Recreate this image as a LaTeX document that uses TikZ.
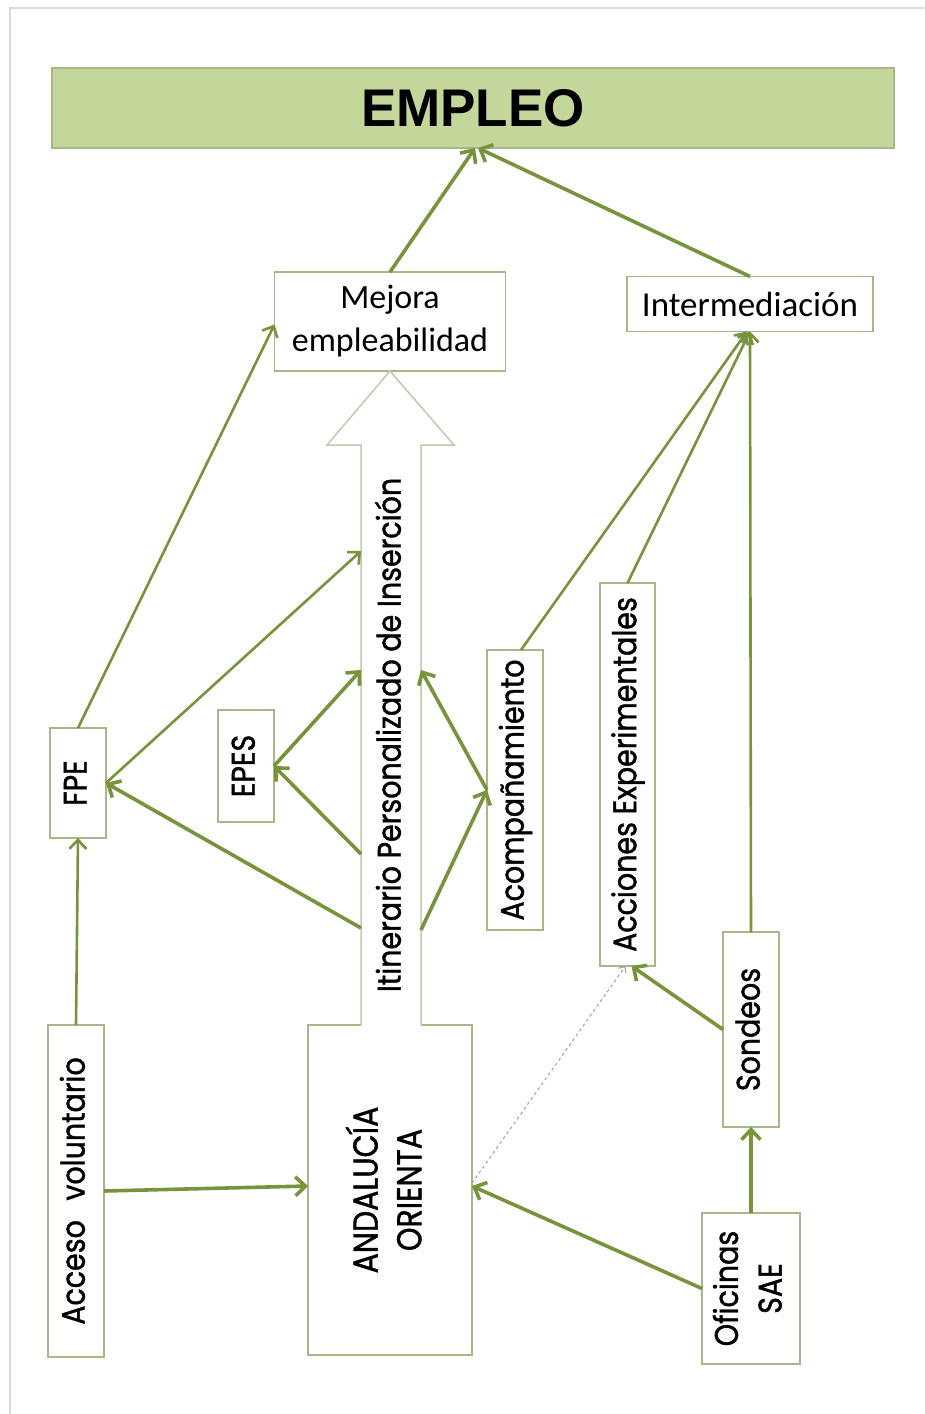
\documentclass[tikz,border=0pt]{standalone}
\usepackage{fontspec}
\usepackage{graphicx}
\setmainfont{Poppins}[UprightFeatures={FakeBold=1.3}]
\newfontfamily\calfont{Carlito}
\newfontfamily\arialfont{Liberation Sans}
\usetikzlibrary{arrows.meta}

\definecolor{olivearrow}{RGB}{119,147,60}
\definecolor{olivefill}{RGB}{196,215,155}
\definecolor{boxline}{RGB}{168,182,138}
\definecolor{bigarrowline}{RGB}{196,200,178}

\newcommand{\vtext}[2][28.5]{\rotatebox{90}{\scalebox{1}[1.15]{\fontsize{#1}{38}\selectfont\begin{tabular}{@{}c@{}}#2\end{tabular}}}}

\tikzset{
  box/.style={draw=boxline, line width=1.5pt, fill=white, inner sep=0pt, outer sep=0pt, align=center},
  flecha/.style={draw=olivearrow, line width=3.6pt, -{Straight Barb[length=10pt,width=19pt]}},
  flechafina/.style={draw=olivearrow, line width=2.6pt, -{Straight Barb[length=9pt,width=17pt]}},
  punteada/.style={draw=gray!70, line width=1.1pt, dashed, -{Straight Barb[length=5pt,width=9pt]}},
}

\begin{document}
\begin{tikzpicture}[x=1pt,y=1pt,yscale=-1,xscale=1]
\useasboundingbox (0,0) rectangle (924,1414);
%frame of the scan
\draw [gray!30, line width=2pt] (10,1414) -- (10,8) -- (924,8) ;

%Shape: EMPLEO
\node [box, fill=olivefill, minimum width=842pt, minimum height=80pt] (empleo) at (473,108) {\arialfont\bfseries\fontsize{53}{60}\selectfont EMPLEO};

%Shape: upper row
\node [box, minimum width=231pt, minimum height=99pt, font=\calfont\fontsize{34}{43}\selectfont] (mejora) at (390,321.5) {Mejora\\empleabilidad};
\node [box, minimum width=246pt, minimum height=55pt, font=\calfont\fontsize{35}{40}\selectfont] (inter) at (750,304) {Intermediación};

%Shape: left column
\node [box, minimum width=56pt, minimum height=110pt] (fpe) at (78,783) {\vtext{FPE}};
\node [box, minimum width=56pt, minimum height=112pt] (epes) at (246,766) {\vtext{EPES}};
\node [box, minimum width=56pt, minimum height=332pt] (acceso) at (76,1191) {\vtext{Acceso\hspace{12pt} voluntario}};

%Shape: ANDALUCIA ORIENTA
\node [box, minimum width=164pt, minimum height=330pt] (andal) at (390,1190) {\vtext[30]{ANDALUCÍA\\ORIENTA}};

%Shape: big hollow arrow
\fill [white] (361,1027) -- (361,445) -- (327,445) -- (390,371) -- (454,445) -- (421,445) -- (421,1027) -- cycle ;
\draw [bigarrowline, line width=1.5pt, line join=miter] (361,1025) -- (361,445) -- (327,445) -- (390,371) -- (454,445) -- (421,445) -- (421,1025) ;
\node (itin) at (392,735) {\vtext{Itinerario Personalizado de Inserción}};

%Shape: right column
\node [box, minimum width=56pt, minimum height=280pt] (acomp) at (515,790) {\vtext{Acompañamiento}};
\node [box, minimum width=55pt, minimum height=383pt] (acc) at (627.5,774.5) {\vtext{Acciones Experimentales}};
\node [box, minimum width=56pt, minimum height=195pt] (sond) at (751,1029.5) {\vtext{Sondeos}};
\node [box, minimum width=98pt, minimum height=151pt] (ofic) at (751,1288.5) {\vtext{Oficinas\\SAE}};

%points on the shaft of the big arrow
\coordinate (itFin) at (361,551);
\coordinate (itFout) at (361,928);
\coordinate (itEin) at (361,670);
\coordinate (itEout) at (361,854);
\coordinate (itAin) at (421,670);
\coordinate (itAout) at (421,930);

%Straight Lines: to EMPLEO
\draw [flecha] (mejora.north) -- ([xshift=2pt]empleo.south) ;
\draw [flecha] (inter.north) -- ([xshift=5pt]empleo.south) ;

%Straight Lines: left side
\draw [flechafina] (fpe.north) -- ([yshift=3pt]mejora.west) ;
\draw [flechafina] (fpe.east) -- (itFin) ;
\draw [flecha] (itFout) -- (fpe.east) ;
\draw [flecha] (epes.east) -- (itEin) ;
\draw [flecha] (itEout) -- (epes.east) ;
\draw [flechafina] (acceso.north) -- (fpe.south) ;
\draw [flecha] (acceso.east) -- ([yshift=-4pt]andal.west) ;

%Straight Lines: right side
\draw [flecha] (acomp.west) -- (itAin) ;
\draw [flecha] (itAout) -- (acomp.west) ;
\draw [flechafina] ([xshift=6pt]acomp.north) -- ([xshift=-3pt]inter.south) ;
\draw [flechafina] (acc.north) -- (inter.south) ;
\draw [flechafina] (sond.north) -- (inter.south) ;
\draw [flecha] (sond.west) -- ([xshift=4pt]acc.south) ;
\draw [flecha] (ofic.north) -- (sond.south) ;
\draw [flecha] (ofic.west) -- ([yshift=-4pt]andal.east) ;
\draw [punteada] ([yshift=-7pt]andal.east) -- ([xshift=-2pt]acc.south) ;

\end{tikzpicture}
\end{document}
